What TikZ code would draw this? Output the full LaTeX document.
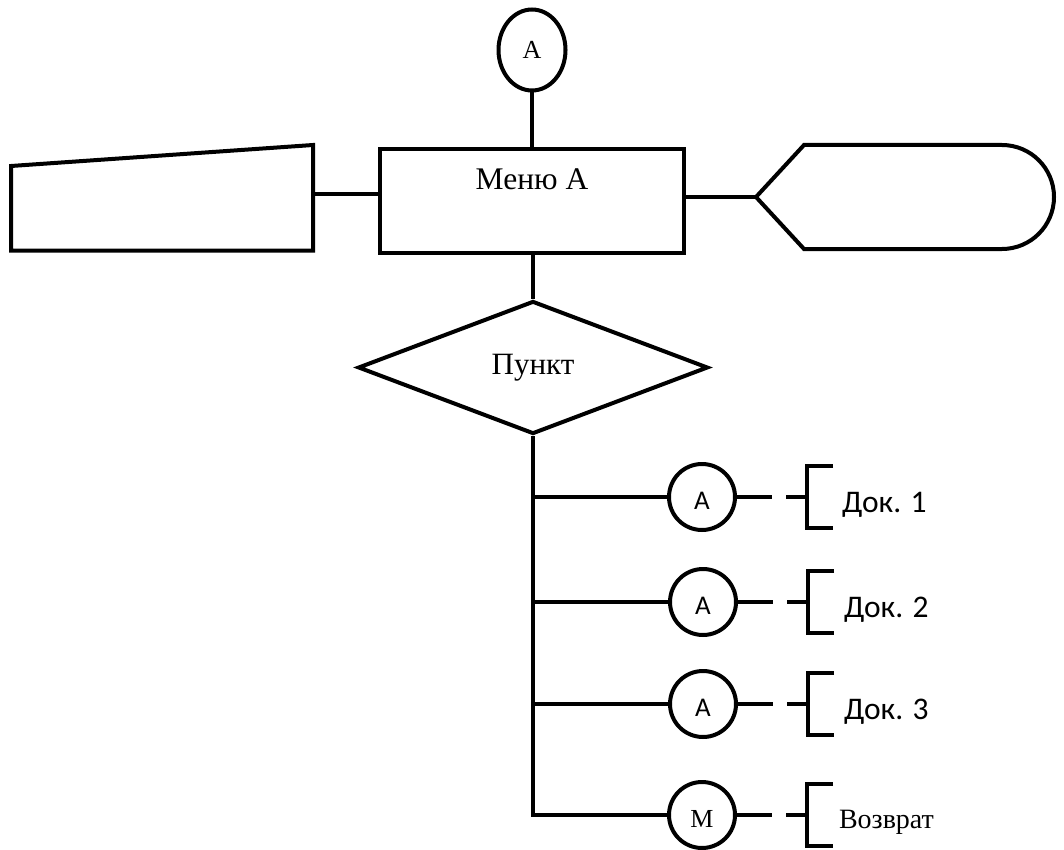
\documentclass[tikz,border=0pt]{standalone}
\usepackage{fontspec}
\setmainfont{Liberation Serif}
\newfontfamily\calib{Carlito}
\usetikzlibrary{shapes.geometric}
\begin{document}
\begin{tikzpicture}[x=1pt,y=-1pt, line width=4pt,
  every node/.style={inner sep=0pt},
  ell/.style={draw, ellipse, minimum width=67pt, minimum height=81pt, font=\fontsize{26}{30}\selectfont},
  proc/.style={draw, rectangle, minimum width=304pt, text height=41pt, text depth=63pt, font=\fontsize{31.5}{36}\selectfont},
  dec/.style={draw, diamond, minimum width=350pt, minimum height=133pt, font=\fontsize{31}{36}\selectfont},
  conn/.style={draw, circle, minimum size=66pt, text height=24pt, text depth=0pt, font=\calib\fontsize{27}{30}\selectfont},
  connM/.style={draw, circle, minimum size=66pt, text height=24pt, text depth=0pt, font=\fontsize{26}{30}\selectfont},
  doclbl/.style={anchor=base west, font=\calib\fontsize{31.5}{36}\selectfont},
  retlbl/.style={anchor=base west, font=\fontsize{28}{34}\selectfont},
  dashline/.style={dash pattern=on 35pt off 14pt on 60pt},
  brk/.style={line join=miter}
]
\useasboundingbox (0,0) rectangle (1064,850);

% top connector
\node[ell] (topA) at (532,50) {A};
% process
\node[proc, anchor=north] (menu) at (532,147) {Меню A};
\draw (topA.south) -- (menu.north);

% left manual input shape
\coordinate (inR) at (313,194);
\draw[line join=miter] (11,166) -- (313,145) -- (313,250.5) -- (11,250.5) -- cycle;
\draw (inR) -- (inR -| menu.west);

% right display shape
\coordinate (dispL) at (756,197);
\draw[line join=miter] (dispL) -- (804,145) -- (1002,145) arc[start angle=-90,end angle=90,radius=52] -- (804,249) -- cycle;
\draw (menu.east |- dispL) -- (dispL);

% decision
\node[dec] (dec) at (533,367.5) {Пункт};
\draw (menu.south -| dec.north) -- (dec.north);

% connectors
\node[conn] (c1) at (702,497) {A};
\node[conn] (c2) at (703,602) {A};
\node[conn] (c3) at (703,704) {A};
\node[connM] (c4) at (702,815) {М};

\draw[line join=miter] (dec.south) |- (c4.west);
\draw (dec.south |- c1.west) -- (c1.west);
\draw (dec.south |- c2.west) -- (c2.west);
\draw (dec.south |- c3.west) -- (c3.west);

% brackets
\coordinate (b1) at (807,497);
\coordinate (b2) at (808,602);
\coordinate (b3) at (808,704);
\coordinate (b4) at (807,815);
\foreach \b in {b1,b2,b3,b4}{
  \draw[brk] (\b) ++(26,-31) -- ++(-26,0) -- ++(0,62) -- ++(26,0);
}
\draw[dashline] (c1.east) -- (b1);
\draw[dashline] (c2.east) -- (b2);
\draw[dashline] (c3.east) -- (b3);
\draw[dashline] (c4.east) -- (b4);

\node[doclbl] (d1) at (840,512) {Док. 1};
\node[doclbl] (d2) at (842,617) {Док. 2};
\node[doclbl] (d3) at (842,719) {Док. 3};
\node[retlbl] (d4) at (837,828) {Возврат};
\end{tikzpicture}
\end{document}
